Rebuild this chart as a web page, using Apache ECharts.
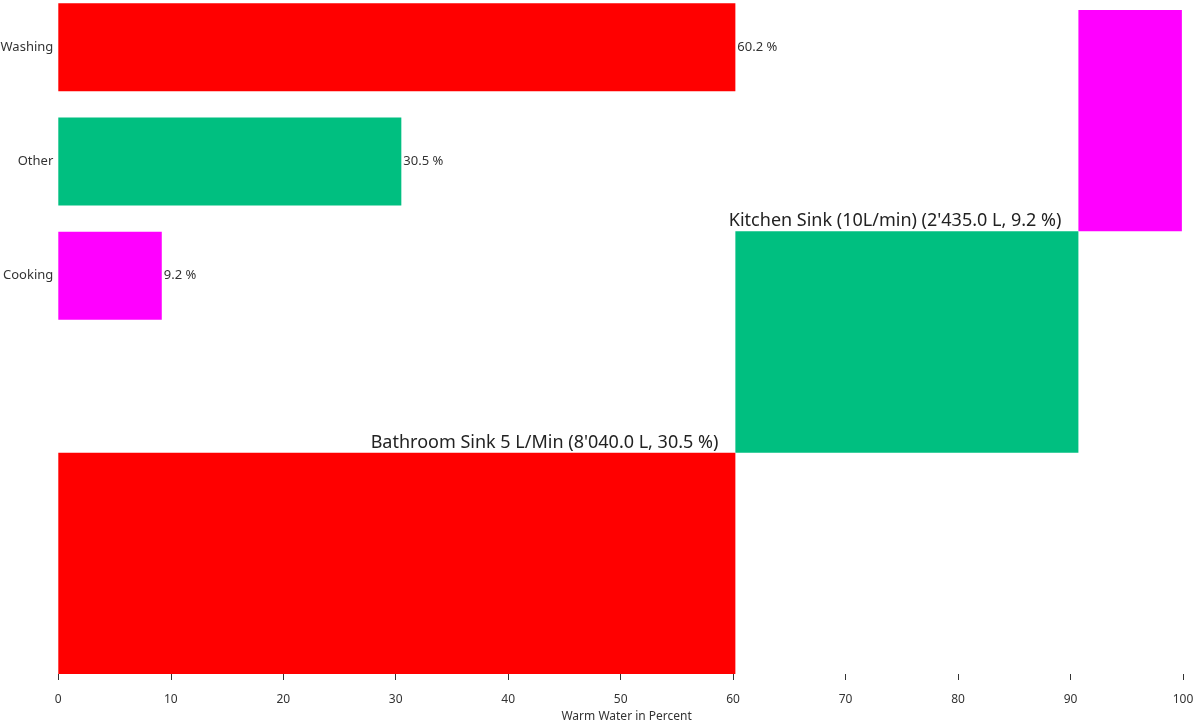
<!DOCTYPE html>
<html>
<head>
<meta charset="utf-8">
<script src="https://cdn.jsdelivr.net/npm/echarts@6/dist/echarts.min.js"></script>
<style>
html,body{margin:0;padding:0;background:#fff;}
#chart{width:1195px;height:724px;}
</style>
</head>
<body>
<div id="chart"></div>
<script>
const categories = ['Washing', 'Other', 'Cooking'];
const percentValues = [60.2, 30.5, 9.2];
const barColors = ['#ff0000', '#00bf80', '#ff00ff'];
const blockLabels = [
  "Bathroom Sink 5 L/Min (8'040.0 L, 30.5 %)",
  "Kitchen Sink (10L/min) (2'435.0 L, 9.2 %)",
  ""
];
const xTicks = [0, 10, 20, 30, 40, 50, 60, 70, 80, 90, 100];
const xAxisTitle = 'Warm Water in Percent';

const FONT = '"Noto Sans", "Open Sans", sans-serif';

// cascade blocks built from the percent values
let acc = 0;
const blocks = percentValues.map((v, i) => {
  const item = { value: [acc, acc + v, i], label: blockLabels[i], color: barColors[i] };
  acc += v;
  return item;
});

const chart = echarts.init(document.getElementById('chart'), null, { renderer: 'canvas' });

const option = {
  animation: false,
  backgroundColor: '#ffffff',
  textStyle: { fontFamily: FONT },
  grid: [
    { left: 58.3, right: 12, top: -10, height: 342.75, containLabel: false, outerBoundsMode: 'none' },
    { left: 58.3, right: 12, top: 10, bottom: 50, containLabel: false, outerBoundsMode: 'none' }
  ],
  xAxis: [
    { type: 'value', gridIndex: 0, min: 0, max: 100, interval: 10, show: false },
    {
      type: 'value', gridIndex: 1, min: 0, max: 100, interval: 10,
      offset: 3,
      axisLine: { show: false },
      axisTick: { show: true, length: 6, lineStyle: { color: '#333', width: 1 } },
      axisLabel: { color: '#333', fontSize: 12, fontFamily: FONT, margin: 17,
        formatter: v => xTicks.includes(v) ? String(v) : '' },
      splitLine: { show: false },
      name: xAxisTitle, nameLocation: 'middle', nameGap: 33,
      nameTextStyle: { color: '#333', fontSize: 12, fontFamily: FONT, padding: [0, 0, 0, 12] }
    }
  ],
  yAxis: [
    {
      type: 'category', gridIndex: 0, data: categories, inverse: true,
      axisLine: { show: false }, axisTick: { show: false },
      axisLabel: { color: '#333', fontSize: 13, fontFamily: FONT, margin: 5 }
    },
    { type: 'value', gridIndex: 1, min: 0, max: 3, show: false }
  ],
  series: [
    {
      type: 'bar', xAxisIndex: 0, yAxisIndex: 0,
      barWidth: 88,
      data: percentValues.map((v, i) => ({ value: v, itemStyle: { color: barColors[i] } })),
      label: { show: true, position: 'right', distance: 2, color: '#333', fontSize: 13,
        fontFamily: FONT, formatter: p => p.value + ' %' }
    },
    {
      type: 'custom', xAxisIndex: 1, yAxisIndex: 1,
      data: blocks.map(b => b.value),
      renderItem: function (params, api) {
        const s = api.value(0), e = api.value(1), lvl = api.value(2);
        const p0 = api.coord([s, lvl + 1]);
        const p1 = api.coord([e, lvl]);
        const b = blocks[params.dataIndex];
        return {
          type: 'group',
          children: [
            { type: 'rect', shape: { x: p0[0], y: p0[1], width: p1[0] - p0[0], height: p1[1] - p0[1] },
              style: { fill: b.color } },
            { type: 'text', x: p1[0] - 17, y: p0[1] - 1,
              style: { text: b.label, align: 'right', verticalAlign: 'bottom',
                fill: '#222', font: '18px ' + FONT } }
          ]
        };
      }
    }
  ]
};
chart.setOption(option);
</script>
</body>
</html>
